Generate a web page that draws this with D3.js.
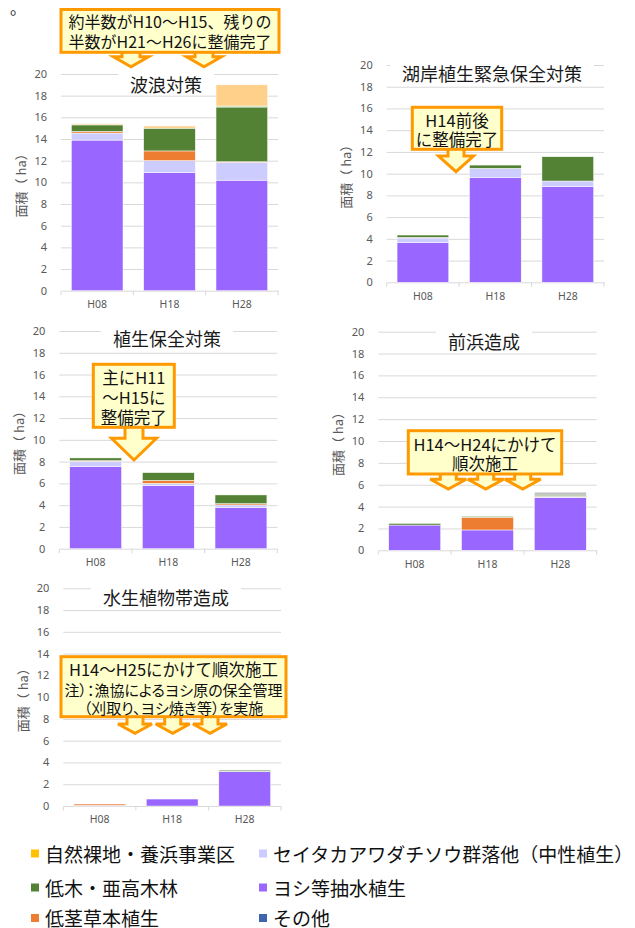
<!DOCTYPE html>
<html lang="ja">
<head>
<meta charset="utf-8">
<script src="https://cdn.jsdelivr.net/npm/d3@7"></script>
<style>
  html, body { margin: 0; padding: 0; background: #fff; }
  svg { display: block; font-family: "Noto Sans CJK JP", "Noto Sans", sans-serif; }
</style>
</head>
<body>
<svg id="chart" width="635" height="928"></svg>
<script>
// ---- data ---------------------------------------------------------------
const categories = ["H08", "H18", "H28"];
const yTicks = [0, 2, 4, 6, 8, 10, 12, 14, 16, 18, 20];
const panelTitles = ["波浪対策", "湖岸植生緊急保全対策", "植生保全対策", "前浜造成", "水生植物帯造成"];

// area (ha) per panel, per survey year (H08, H18, H28)
const yoshi    = [[13.9, 10.9, 10.2], [3.64, 9.66, 8.8], [7.54, 5.79, 3.77], [2.31, 1.86, 4.85], [0.06, 0.64, 3.15]];
const seitaka  = [[0.65, 1.1, 1.65],  [0.44, 0.83, 0.52], [0.5, 0.21, 0.25], [0, 0, 0.03],       [0, 0, 0.04]];
const teikei   = [[0.15, 0.9, 0.05],  [0.05, 0, 0],       [0.05, 0.28, 0.12], [0, 1.16, 0.05],   [0.12, 0, 0]];
const teiboku  = [[0.6, 2.1, 5.05],   [0.22, 0.3, 2.24],  [0.25, 0.71, 0.8], [0.15, 0.08, 0.12], [0, 0, 0.1]];
const kusachi  = [[0, 0, 0.1],        [0, 0, 0],          [0, 0, 0],         [0, 0, 0],          [0, 0, 0]];
const sunahama = [[0.1, 0.2, 1.95],   [0, 0, 0],          [0, 0, 0],         [0, 0, 0],          [0, 0, 0]];
const rachi    = [[0, 0, 0],          [0, 0, 0],          [0, 0, 0],         [0, 0, 0.27],       [0, 0, 0]];
const shizen   = [[0, 0, 0],          [0, 0, 0],          [0, 0, 0],         [0, 0, 0],          [0, 0, 0]];
const sonota   = [[0, 0, 0],          [0, 0, 0],          [0, 0, 0],         [0, 0, 0],          [0, 0, 0]];

const seriesKeys = ["yoshi", "seitaka", "teikei", "teiboku", "kusachi", "sunahama", "rachi", "shizen", "sonota"];
const seriesValues = { yoshi, seitaka, teikei, teiboku, kusachi, sunahama, rachi, shizen, sonota };
const seriesColors = {
  yoshi: "#9966FF", seitaka: "#CCCCFF", teikei: "#ED7D31", teiboku: "#548235",
  kusachi: "#A9D18E", sunahama: "#FFD08A", rachi: "#BFBFBF", shizen: "#FFC000", sonota: "#3E64AE"
};

const legendNames = ["自然裸地・養浜事業区", "セイタカアワダチソウ群落他（中性植生）", "低木・亜高木林", "ヨシ等抽水植生", "低茎草本植生", "その他"];
const legendKeys  = ["shizen", "seitaka", "teiboku", "yoshi", "teikei", "sonota"];

const noteLines = [
  ["約半数がH10～H15、残りの", "半数がH21～H26に整備完了"],
  ["H14前後", "に整備完了"],
  ["主にH11", "～H15に", "整備完了"],
  ["H14～H24にかけて", "順次施工"],
  ["H14～H25にかけて順次施工", "注）：漁協によるヨシ原の保全管理", "（刈取り、ヨシ焼き等）を実施"]
];

// ---- layout -------------------------------------------------------------
const panels = [
  { left: 61,    right: 278,   top: 74,    bottom: 290.7, titleX: 166,   titleY: 84 },
  { left: 386.7, right: 604,   top: 65,    bottom: 282.3, titleX: 492,   titleY: 72.5 },
  { left: 59.3,  right: 277.3, top: 331,   bottom: 548.7, titleX: 167,   titleY: 338 },
  { left: 378.3, right: 596.7, top: 331.7, bottom: 550.3, titleX: 484,   titleY: 340.5 },
  { left: 63.3,  right: 281,   top: 588.3, bottom: 806,   titleX: 166,   titleY: 596.7 }
];

// callout boxes: box rectangle, text line centres, and the down arrows
const callouts = [
  { x0: 61, x1: 279, y0: 9.5, y1: 52.3, lineY: [20.7, 40.7], size: [16, 16],
    arrows: [131, 204], shaft: 18, head: 35, headY: 56.7, tipY: 66.7 },
  { x0: 412.3, x1: 501.7, y0: 107.3, y1: 149.3, lineY: [120, 138.5], size: [16.5, 16.5],
    arrows: [456], shaft: 16, head: 35, headY: 156, tipY: 171.7 },
  { x0: 93.3, x1: 174.3, y0: 364.3, y1: 427.3, lineY: [377.3, 397.3, 416.7], size: [16.5, 16.5, 16.5],
    arrows: [134], shaft: 18, head: 45, headY: 438.3, tipY: 460 },
  { x0: 408.3, x1: 561.7, y0: 430.7, y1: 474, lineY: [444, 463.3], size: [16.5, 16.5],
    arrows: [448.3, 485.7, 522.7], shaft: 16, head: 36, headY: 479.3, tipY: 489 },
  { x0: 61, x1: 286, y0: 656.7, y1: 716.7, lineY: [669, 689, 707.7], size: [16.5, 15, 15], palt: [false, true, true],
    arrows: [135, 172.7, 210], shaft: 16, head: 34, headY: 724, tipY: 733.3 }
];

// ---- drawing ------------------------------------------------------------
const svg = d3.select("#chart");
const gridColor = "#D9D9D9";
const axisText = "#595959";

svg.append("text")
  .attr("x", 10).attr("y", 14)
  .attr("font-size", 16).attr("fill", "#222")
  .text("。");

panels.forEach((p, i) => {
  const g = svg.append("g");
  const x = d3.scaleBand().domain(categories).range([p.left, p.right])
    .paddingInner(0.286).paddingOuter(0.143);
  const y = d3.scaleLinear().domain([0, 20]).range([p.bottom, p.top]);

  // horizontal gridlines
  const grid = g.append("g")
    .attr("transform", `translate(${p.left},0)`)
    .call(d3.axisLeft(y).tickValues(yTicks.filter(t => t > 0)).tickSize(-(p.right - p.left)).tickFormat(""));
  grid.select(".domain").remove();
  grid.selectAll("line").attr("stroke", gridColor).attr("stroke-width", 1);

  // y tick labels
  const yAxis = g.append("g")
    .attr("transform", `translate(${p.left},0)`)
    .call(d3.axisLeft(y).tickValues(yTicks).tickSize(0).tickPadding(14));
  yAxis.select(".domain").remove();
  yAxis.selectAll("text")
    .attr("fill", axisText).attr("font-size", 11)
    .attr("font-family", "'Noto Sans', sans-serif");

  // category axis with boundary tick marks
  const xAxis = g.append("g")
    .attr("transform", `translate(0,${p.bottom})`)
    .call(d3.axisBottom(x).tickSize(0).tickPadding(10));
  xAxis.select(".domain").attr("stroke", gridColor);
  xAxis.selectAll("text")
    .attr("fill", axisText).attr("font-size", 10.5)
    .attr("font-family", "'Noto Sans', sans-serif");
  const step = x.step();
  const bounds = [p.left].concat(categories.map(c => x(c) + x.bandwidth() / 2 + step / 2));
  xAxis.selectAll(".btick").data(bounds).join("line")
    .attr("class", "btick")
    .attr("x1", d => d).attr("x2", d => d)
    .attr("y1", 0).attr("y2", 4.5)
    .attr("stroke", gridColor);

  // y axis title
  g.append("text")
    .attr("transform", `translate(${p.left - 41},${(p.top + p.bottom) / 2}) rotate(-90)`)
    .attr("text-anchor", "middle").attr("dominant-baseline", "central")
    .attr("fill", axisText).attr("font-size", 13)
    .text("面積（ ha）");

  // stacked bars
  const rows = categories.map((c, j) => {
    const r = { cat: c };
    seriesKeys.forEach(k => { r[k] = seriesValues[k][i][j]; });
    return r;
  });
  const stacked = d3.stack().keys(seriesKeys)(rows);
  g.append("g").selectAll("g").data(stacked).join("g")
    .attr("fill", d => seriesColors[d.key])
    .selectAll("rect").data(d => d.filter(s => s[1] - s[0] > 0)).join("rect")
    .attr("x", d => x(d.data.cat))
    .attr("width", x.bandwidth())
    .attr("y", d => y(d[1]))
    .attr("height", d => y(d[0]) - y(d[1]))
    .attr("stroke", "#fff").attr("stroke-width", 0.5);

  // chart title on a white plate
  const tg = g.append("g");
  const tt = tg.append("text")
    .attr("x", p.titleX).attr("y", p.titleY)
    .attr("text-anchor", "middle").attr("dominant-baseline", "central")
    .attr("font-size", 18).attr("fill", "#1a1a1a")
    .text(panelTitles[i]);
  const tw = tt.node().getComputedTextLength();
  tg.insert("rect", "text")
    .attr("x", p.titleX - tw / 2 - 12).attr("y", p.titleY - 12)
    .attr("width", tw + 24).attr("height", 23)
    .attr("fill", "#fff");

  // callout
  const c = callouts[i];
  const cg = svg.append("g");
  c.arrows.forEach(ax => {
    const s = c.shaft / 2, h = c.head / 2;
    const path = `M${ax - s},${c.y1} L${ax - s},${c.headY} L${ax - h},${c.headY} L${ax},${c.tipY} L${ax + h},${c.headY} L${ax + s},${c.headY} L${ax + s},${c.y1}`;
    cg.append("path").attr("d", path)
      .attr("fill", "#FFFFCC").attr("stroke", "#FF9900").attr("stroke-width", 3)
      .attr("stroke-linejoin", "miter");
  });
  cg.append("rect")
    .attr("x", c.x0).attr("y", c.y0)
    .attr("width", c.x1 - c.x0).attr("height", c.y1 - c.y0)
    .attr("fill", "#FFFFCC").attr("stroke", "#FF9900").attr("stroke-width", 3);
  noteLines[i].forEach((line, k) => {
    const t = cg.append("text")
      .attr("x", (c.x0 + c.x1) / 2).attr("y", c.lineY[k])
      .attr("text-anchor", "middle").attr("dominant-baseline", "central")
      .attr("font-size", c.size[k]).attr("fill", "#111")
      .text(line);
    if (c.palt && c.palt[k]) t.style("font-feature-settings", "'palt'");
  });
});

// legend
const legendPos = [
  { x: 31, y: 853 }, { x: 259, y: 853 },
  { x: 31, y: 887 }, { x: 259, y: 887 },
  { x: 31, y: 917.5 }, { x: 259, y: 917.5 }
];
const lg = svg.append("g");
legendNames.forEach((name, i) => {
  const pos = legendPos[i];
  lg.append("rect")
    .attr("x", pos.x).attr("y", pos.y - 3.5)
    .attr("width", 8).attr("height", 8)
    .attr("fill", seriesColors[legendKeys[i]]);
  lg.append("text")
    .attr("x", pos.x + 14).attr("y", pos.y)
    .attr("dominant-baseline", "central")
    .attr("font-size", 19).attr("fill", "#111")
    .text(name);
});
</script>
</body>
</html>
